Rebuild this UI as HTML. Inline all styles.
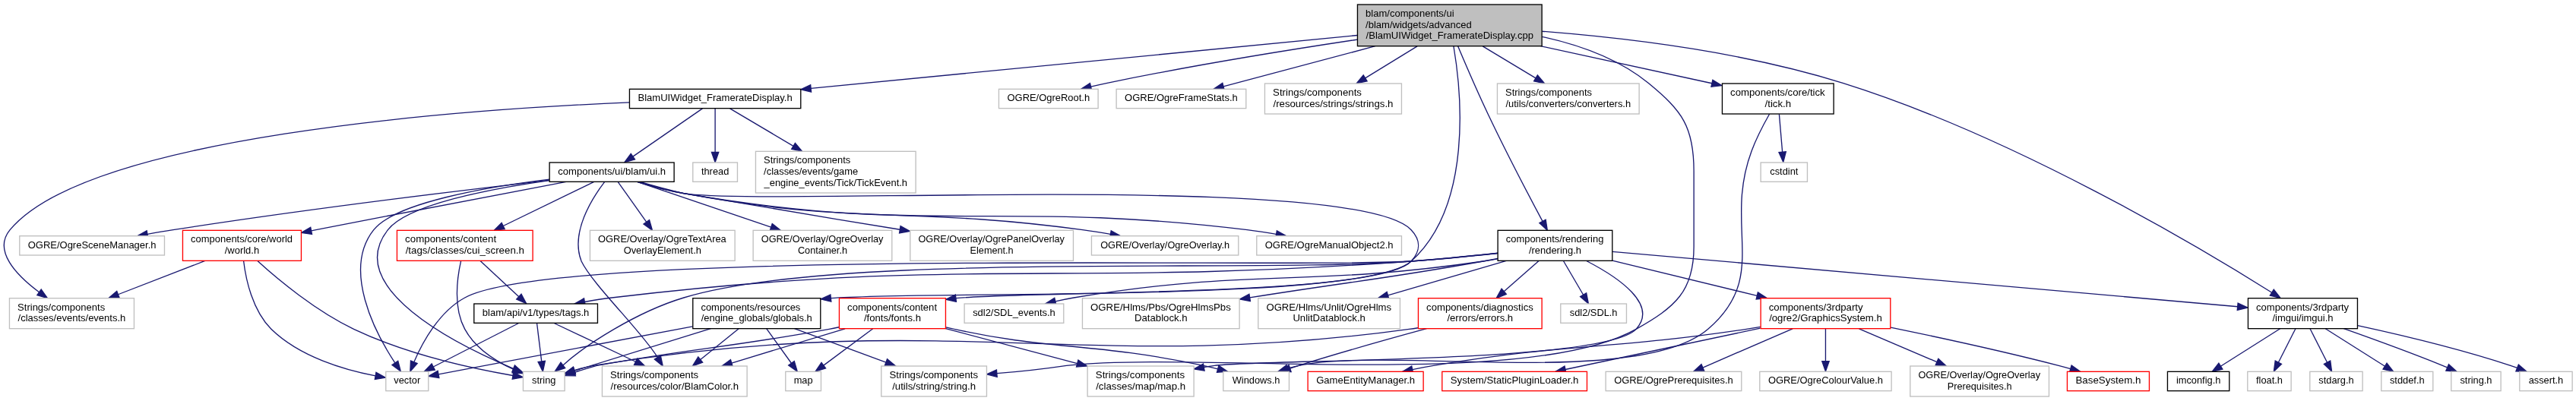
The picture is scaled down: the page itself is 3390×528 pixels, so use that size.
<!DOCTYPE html>
<html lang="en">
<head>
<meta charset="utf-8">
<title>blam/components/ui/blam/widgets/advanced/BlamUIWidget_FramerateDisplay.cpp include dependency graph</title>
<style>
html,body{margin:0;padding:0;background:#ffffff;}
body{width:3390px;height:528px;overflow:hidden;}
svg{display:block;position:absolute;left:0;top:0;will-change:transform;transform:translateZ(0);}
text{font-family:"Liberation Sans",Arial,Helvetica,sans-serif;font-size:13.333px;fill:#000000;}
.e{fill:none;stroke:#191970;stroke-width:1.333;}
.a{fill:#191970;stroke:#191970;stroke-width:1.333;}
.n{stroke-width:1.333;}
.m{text-anchor:middle;}
</style>
</head>
<body>
<svg width="3390" height="528" viewBox="0 0 3390 528">
<rect x="0" y="0" width="3390" height="528" fill="#ffffff"/>
<g id="edges">
<path class="e" d="M269.83,343.47L155.42,387.75"/>
<polygon class="a" points="157.1,392.1 142.98,392.56 153.73,383.4"/>
<path class="e" d="M338.89,343.57C365.3,367.72 415.24,409.28 465.52,433.33 535.91,466.84 624.59,485.75 675,494.52"/>
<polygon class="a" points="675.77,489.92 688.15,496.73 674.23,499.12"/>
<path class="e" d="M320.61,343.73C323.43,367.68 332.25,408.61 356.88,433.33 394.81,470.39 454.28,487.36 494.13,494.93"/>
<polygon class="a" points="494.94,490.33 507.27,497.23 493.33,499.53"/>
<path class="e" d="M632.04,343.47L682.87,390.67"/>
<polygon class="a" points="686.05,387.25 692.64,399.75 679.69,394.09"/>
<path class="e" d="M606.6,343.68C601.43,366.48 596.3,405.16 611.71,433.33 625.32,458.52 652.71,475.73 675.95,486.49"/>
<polygon class="a" points="677.79,482.2 688.2,491.75 674.11,490.78"/>
<path class="e" d="M1971.08,340.39C1964.56,341.65 1958.07,342.87 1951.79,344 1819.56,367.79 1782.76,369.84 1644.66,391.88"/>
<polygon class="a" points="1645.4,396.49 1631.49,393.99 1643.92,387.27"/>
<path class="e" d="M2025.04,343.47L1979.18,383.76"/>
<polygon class="a" points="1982.26,387.27 1969.16,392.56 1976.1,380.25"/>
<path class="e" d="M1970.63,340.93C1964.27,342.07 1957.93,343.11 1951.79,344 1713.96,378.77 1650.29,352.53 1413.12,392 1405.31,393.31 1397.11,394.97 1388.83,396.84"/>
<polygon class="a" points="1389.9,401.38 1375.85,399.91 1387.75,392.29"/>
<path class="e" d="M2121.95,343.04L2312.27,389.38"/>
<polygon class="a" points="2313.38,384.84 2325.23,392.53 2311.17,393.91"/>
<path class="e" d="M1970.99,333.36C1936.33,337.09 1894.68,341.23 1857.12,344 1390.35,378.45 1269.89,336.76 805.12,392 793.51,393.37 781.23,395.33 769.38,397.48"/>
<polygon class="a" points="770.25,402.07 756.28,399.96 768.51,392.9"/>
<path class="e" d="M2087.73,343.52C2129.13,364.91 2182.79,400.99 2153.12,433.33 2111.31,478.92 1659.69,472.63 1598.45,481.33 1593.88,481.99 1589.2,482.71 1584.28,483.53"/>
<polygon class="a" points="1585.08,488.13 1571.15,485.8 1583.49,478.93"/>
<path class="e" d="M2057.45,343.47L2083.62,388.24"/>
<polygon class="a" points="2087.65,385.88 2090.35,399.75 2079.59,390.59"/>
<path class="e" d="M1970.99,333.28C1936.33,337 1894.68,341.15 1857.12,344 1644.89,360.16 1103.79,330.72 899.79,392 837.49,410.71 769.6,454.76 740.83,480.9"/>
<polygon class="a" points="743.67,484.6 730.25,489 738,477.19"/>
<path class="e" d="M1982.31,343.36L1826.47,388.79"/>
<polygon class="a" points="1827.77,393.27 1813.67,392.52 1825.16,384.31"/>
<path class="e" d="M2122.03,331.32L2944.68,403.78"/>
<polygon class="a" points="2945.09,399.13 2957.96,404.95 2944.27,408.43"/>
<path class="e" d="M1971,333.48C1936.35,337.24 1894.69,341.36 1857.12,344 1718.99,353.71 733.35,325.67 611.72,392 577.94,410.32 555.96,450.63 544.81,476.75"/>
<polygon class="a" points="549.14,478.5 539.83,489.12 540.48,475.01"/>
<path class="e" d="M1008.82,432.8L1041.45,478.25"/>
<polygon class="a" points="1045.24,475.53 1049.23,489.08 1037.66,480.97"/>
<path class="e" d="M935.37,432.69L756.06,488.19"/>
<polygon class="a" points="757.44,492.65 743.32,492.13 754.68,483.73"/>
<path class="e" d="M1045.49,432.69L1165.97,477.09"/>
<polygon class="a" points="1167.58,472.72 1178.48,481.71 1164.36,481.47"/>
<path class="e" d="M972.18,432.8L921.74,473.52"/>
<polygon class="a" points="924.67,477.15 911.36,481.89 918.81,469.89"/>
<path class="e" d="M911.41,429.89L576.98,492.9"/>
<polygon class="a" points="577.85,497.49 563.88,495.37 576.12,488.32"/>
<path class="e" d="M745.07,239.39C668.57,253.93 532.31,279.92 415.79,302.67 413.83,303.05 411.85,303.44 409.62,303.88"/>
<polygon class="a" points="410.52,308.45 396.53,306.44 408.72,299.3"/>
<path class="e" d="M781.8,239.33L662.19,297.49"/>
<polygon class="a" points="664.23,301.69 650.2,303.32 660.15,293.29"/>
<path class="e" d="M842.2,239.47C859.57,244.57 880.63,250.39 899.79,254.67 913.77,257.79 1069.8,283.51 1184.32,302.26"/>
<polygon class="a" points="1185.08,297.66 1197.48,304.43 1183.57,306.87"/>
<path class="e" d="M838.57,239.33L1014.73,299.04"/>
<polygon class="a" points="1016.23,294.62 1027.36,303.32 1013.23,303.46"/>
<path class="e" d="M839.83,239.43C857.57,244.85 879.64,250.95 899.79,254.67 1130.33,297.29 1192.77,271.32 1424.78,302.67 1436.26,304.25 1448.81,306.23 1461.43,308.37"/>
<polygon class="a" points="1462.23,303.77 1474.57,310.64 1460.64,312.96"/>
<path class="e" d="M838.44,239.36C856.4,244.99 879.07,251.27 899.79,254.67 1004.89,271.88 1783.72,225.49 1857.12,302.67 1869.79,315.97 1869.59,330.51 1857.12,344 1813.88,390.84 1368.03,382.63 1257.91,392.6"/>
<polygon class="a" points="1258.46,397.23 1244.67,394.16 1257.36,387.96"/>
<path class="e" d="M722.83,237.57C645,248.51 536.39,269.35 510.45,302.67 450.46,378.8 600.86,453.72 675.69,485.29"/>
<polygon class="a" points="677.47,480.97 688.02,490.37 673.91,489.6"/>
<path class="e" d="M722.72,237.32C610.52,250.32 403.56,275.39 227.79,302.67 216.95,304.35 205.51,306.27 193.95,308.29"/>
<polygon class="a" points="194.77,312.89 180.83,310.63 193.14,303.7"/>
<path class="e" d="M795.53,239.65C779.44,260.71 750.16,306.39 765.12,344 779.79,374.48 844.65,436.69 865.32,470.54"/>
<polygon class="a" points="869.3,468.11 872.27,481.92 861.34,472.97"/>
<path class="e" d="M838.91,239.37C856.79,244.93 879.25,251.15 899.79,254.67 1225.23,310.4 1313.36,262.85 1641.46,302.67 1653.49,304.17 1666.57,306.16 1679.56,308.37"/>
<polygon class="a" points="1680.36,303.77 1692.69,310.67 1678.75,312.96"/>
<path class="e" d="M723.05,236.15C640.07,246.28 520.12,266.79 491.79,302.67 450.39,354.79 493.29,437.57 519.84,477.86"/>
<polygon class="a" points="523.71,475.26 527.27,488.93 515.96,480.46"/>
<path class="e" d="M813.29,239.52L850.77,292.35"/>
<polygon class="a" points="854.57,289.65 858.48,303.23 846.96,295.05"/>
<path class="e" d="M1918.6,60.68C1928.56,84.32 1943.95,120.09 1958.45,150.67 1982.11,200.49 2011.8,257.23 2030.01,291.41"/>
<polygon class="a" points="2034.13,289.21 2036.29,303.17 2025.89,293.61"/>
<path class="e" d="M1809.84,60.72L1610.01,113.89"/>
<polygon class="a" points="1611.2,118.4 1597.12,117.32 1608.81,109.38"/>
<path class="e" d="M1912.93,60.75C1923.13,121.03 1938.43,270.41 1857.12,344 1796.45,398.91 1223.63,382.44 1093.35,392.55"/>
<polygon class="a" points="1093.81,397.2 1080.08,393.88 1092.88,387.91"/>
<path class="e" d="M1786.31,52.07C1695.32,65.77 1567.97,86.33 1457.12,109.33 1450.27,110.76 1443.11,112.37 1435.55,114.15"/>
<polygon class="a" points="1436.66,118.69 1422.6,117.31 1434.45,109.62"/>
<path class="e" d="M1786.33,46.48L1067.11,116.42"/>
<polygon class="a" points="1067.56,121.06 1053.84,117.71 1066.66,111.77"/>
<path class="e" d="M2029.29,48.32C2077.01,58.72 2129.68,77.05 2169.12,109.33 2214.04,146.09 2229.12,167.29 2229.12,225.33 2229.12,225.33 2229.12,225.33 2229.12,324.67 2229.12,383.6 2204.47,404.41 2153.12,433.33 2010.83,513.48 1581.96,462.08 1403.5,481.33 1379.71,484.86 1355.22,488.12 1311.82,491.7"/>
<polygon class="a" points="1312.21,496.35 1298.53,492.8 1311.44,487.05"/>
<path class="e" d="M1865.08,60.85L1796.63,102.81"/>
<polygon class="a" points="1799.07,106.78 1785.27,109.77 1794.2,98.83"/>
<path class="e" d="M2027.55,60.72L2252.9,109.76"/>
<polygon class="a" points="2253.9,105.2 2265.93,112.6 2251.91,114.32"/>
<path class="e" d="M2029.37,41.24C2135.77,49.56 2293.48,68.17 2425.12,109.33 2650.32,179.75 2894.88,325.64 2989.77,385.21"/>
<polygon class="a" points="2992.26,381.27 3001.04,392.33 2987.28,389.16"/>
<path class="e" d="M1951.24,60.85L2021.01,102.89"/>
<polygon class="a" points="2023.41,98.89 2032.43,109.77 2018.6,106.89"/>
<path class="e" d="M2402.45,432.8L2402.45,475.75"/>
<polygon class="a" points="2407.12,475.75 2402.45,489.08 2397.79,475.75"/>
<path class="e" d="M2316.64,432.17L2059.96,486.52"/>
<polygon class="a" points="2060.93,491.08 2046.92,489.28 2059,481.95"/>
<path class="e" d="M2316.84,430.39C2310.63,431.44 2304.45,432.43 2298.45,433.33 2116.17,460.87 2068.32,451.13 1886.45,481.33 1877.52,482.81 1868.12,484.6 1858.69,486.53"/>
<polygon class="a" points="1859.65,491.09 1845.64,489.27 1857.73,481.96"/>
<path class="e" d="M2359.05,432.8L2240.86,484.02"/>
<polygon class="a" points="2242.72,488.3 2228.63,489.32 2239.01,479.74"/>
<path class="e" d="M2488.11,431.09C2549.83,443.83 2634.95,462.24 2709.12,481.33 2714.2,482.64 2719.47,484.07 2724.8,485.57"/>
<polygon class="a" points="2726.1,481.09 2737.61,489.27 2723.51,490.05"/>
<path class="e" d="M2446.43,432.8L2548.97,476.65"/>
<polygon class="a" points="2550.8,472.36 2561.23,481.89 2547.13,480.94"/>
<path class="e" d="M706.56,425.69L712.74,475.93"/>
<polygon class="a" points="717.38,475.36 714.37,489.16 708.11,476.5"/>
<path class="e" d="M729.15,425.51L836.51,476.26"/>
<polygon class="a" points="838.51,472.04 848.56,481.96 834.52,480.48"/>
<path class="e" d="M682.64,425.51L570.24,483.03"/>
<polygon class="a" points="572.37,487.19 558.37,489.11 568.12,478.88"/>
<path class="e" d="M1244.72,430.85C1248.91,431.73 1253.07,432.56 1256.06,433.33 1376.55,460.73 1440.24,450.89 1583.79,481.33 1589.8,482.61 1596.05,484.11 1602.67,485.81"/>
<polygon class="a" points="1603.88,481.3 1615.55,489.27 1601.46,490.32"/>
<path class="e" d="M1148.73,432.8L1083.82,481.12"/>
<polygon class="a" points="1086.6,484.86 1073.12,489.08 1081.03,477.38"/>
<path class="e" d="M1244.53,432.59L1417.71,478.54"/>
<polygon class="a" points="1418.91,474.03 1430.6,481.96 1416.52,483.05"/>
<path class="e" d="M1104.16,430.76C1099.99,431.65 1095.84,432.52 1091.26,433.33 952.36,458.65 920.15,457.25 785.32,481.33 774.14,484.51 762.17,488.33 755.93,490.39"/>
<polygon class="a" points="757.41,494.81 743.29,494.61 754.45,485.96"/>
<path class="e" d="M1112.08,432.8L962.82,478.03"/>
<polygon class="a" points="964.17,482.49 950.06,481.89 961.47,473.56"/>
<path class="e" d="M924.44,142.85L832.9,206.13"/>
<polygon class="a" points="835.55,209.96 821.93,213.71 830.25,202.29"/>
<path class="e" d="M941.12,142.85L941.12,200.37"/>
<polygon class="a" points="945.79,200.37 941.12,213.71 936.45,200.37"/>
<path class="e" d="M828.16,134.85C604,144.48 115.69,179.41 13.12,302.67 -9.71,330.09 21.81,362.57 51.56,384.82"/>
<polygon class="a" points="54.27,381.02 62.42,392.56 48.85,388.62"/>
<path class="e" d="M960.57,142.85L1044.06,192.32"/>
<polygon class="a" points="1046.44,188.31 1055.53,199.12 1041.68,196.34"/>
<path class="e" d="M2328.53,150.23C2321.05,163.43 2311.47,181.67 2305.12,198.67 2267.55,299.24 2329.21,363.35 2247.79,433.33 2156.65,511.67 1826.64,456.2 1709.12,481.33 1704.45,482.33 1699.64,483.6 1694.48,485.14"/>
<polygon class="a" points="1695.92,489.58 1681.8,489.27 1693.04,480.71"/>
<path class="e" d="M2341.4,150.36L2345.64,200.19"/>
<polygon class="a" points="2350.29,199.8 2346.77,213.48 2340.99,200.59"/>
<path class="e" d="M3040,432.8L3062.54,477.19"/>
<polygon class="a" points="3066.7,475.08 3068.57,489.08 3058.38,479.3"/>
<path class="e" d="M3060.25,432.8L3138.54,482.2"/>
<polygon class="a" points="3141.03,478.26 3149.81,489.32 3136.05,486.15"/>
<path class="e" d="M3020.91,432.8L2998.37,477.19"/>
<polygon class="a" points="3002.53,479.3 2992.33,489.08 2994.21,475.08"/>
<path class="e" d="M3084.33,432.71C3121.2,445.75 3171.07,463.88 3214.45,481.33 3216.35,482.09 3218.27,482.88 3220.71,483.91"/>
<polygon class="a" points="3222.55,479.62 3232.97,489.15 3218.88,488.2"/>
<path class="e" d="M3000.65,432.8L2922.37,482.2"/>
<polygon class="a" points="2924.86,486.15 2911.09,489.32 2919.88,478.26"/>
<path class="e" d="M3102.65,428.65C3158.25,440.69 3236.69,459.31 3303.79,481.33 3306.63,482.27 3309.55,483.29 3312.63,484.44"/>
<polygon class="a" points="3314.34,480.1 3325.04,489.32 3310.92,488.78"/>
<path class="e" d="M1865.96,431.72C1862.08,432.32 1858.23,432.87 1854.45,433.33 1423.63,492.92 1248.93,405.65 781.07,481.33 772.59,482.87 763.51,485.25 755.82,487.58"/>
<polygon class="a" points="757.25,492.02 743.13,491.69 754.38,483.14"/>
<path class="e" d="M1877.51,432.69C1829.8,445.65 1765.4,463.69 1709.12,481.33 1705.44,482.49 1701.64,483.72 1697.63,485.04"/>
<polygon class="a" points="1699.13,489.46 1685,489.31 1696.14,480.62"/>
</g>
<g id="nodes">
<rect class="n" x="1786.45" y="6" width="242.67" height="54.67" fill="#bfbfbf" stroke="#000000"/>
<text x="1797.12" y="22" style="font-size:13.03px">blam/components/ui</text>
<text x="1797.12" y="36.67" style="font-size:13.03px">/blam/widgets/advanced</text>
<text x="1907.79" y="51.33" class="m" style="font-size:13.03px">/BlamUIWidget_FramerateDisplay.cpp</text>
<rect class="n" x="828.45" y="117.33" width="225.33" height="25.33" fill="#ffffff" stroke="#000000"/>
<text x="941.12" y="133.33" class="m" style="font-size:13.04px">BlamUIWidget_FramerateDisplay.h</text>
<rect class="n" x="1314.45" y="117.33" width="130.67" height="25.33" fill="#ffffff" stroke="#bfbfbf"/>
<text x="1379.79" y="133.33" class="m" style="font-size:12.95px">OGRE/OgreRoot.h</text>
<rect class="n" x="1469.12" y="117.33" width="170.67" height="25.33" fill="#ffffff" stroke="#bfbfbf"/>
<text x="1554.45" y="133.33" class="m" style="font-size:12.99px">OGRE/OgreFrameStats.h</text>
<rect class="n" x="1664.45" y="110" width="180" height="40" fill="#ffffff" stroke="#bfbfbf"/>
<text x="1675.12" y="126" style="font-size:13.22px">Strings/components</text>
<text x="1754.45" y="140.67" class="m" style="font-size:13.22px">/resources/strings/strings.h</text>
<rect class="n" x="1970.45" y="110" width="186.67" height="40" fill="#ffffff" stroke="#bfbfbf"/>
<text x="1981.12" y="126" style="font-size:12.88px">Strings/components</text>
<text x="2063.79" y="140.67" class="m" style="font-size:12.88px">/utils/converters/converters.h</text>
<rect class="n" x="2266.45" y="110" width="146.67" height="40" fill="#ffffff" stroke="#000000"/>
<text x="2277.12" y="126" style="font-size:13.19px">components/core/tick</text>
<text x="2339.79" y="140.67" class="m" style="font-size:13.19px">/tick.h</text>
<rect class="n" x="723.12" y="214" width="164" height="25.33" fill="#ffffff" stroke="#000000"/>
<text x="805.12" y="230" class="m" style="font-size:13.1px">components/ui/blam/ui.h</text>
<rect class="n" x="911.79" y="214" width="58.67" height="25.33" fill="#ffffff" stroke="#bfbfbf"/>
<text x="941.12" y="230" class="m" style="font-size:12.83px">thread</text>
<rect class="n" x="994.45" y="199.33" width="210.67" height="54.67" fill="#ffffff" stroke="#bfbfbf"/>
<text x="1005.12" y="215.33" style="font-size:12.92px">Strings/components</text>
<text x="1005.12" y="230" style="font-size:12.92px">/classes/events/game</text>
<text x="1099.79" y="244.67" class="m" style="font-size:12.92px">_engine_events/Tick/TickEvent.h</text>
<rect class="n" x="2317.12" y="214" width="61.33" height="25.33" fill="#ffffff" stroke="#bfbfbf"/>
<text x="2347.79" y="230" class="m" style="font-size:12.83px">cstdint</text>
<rect class="n" x="25.79" y="310.67" width="190.67" height="25.33" fill="#ffffff" stroke="#bfbfbf"/>
<text x="121.12" y="326.67" class="m" style="font-size:12.97px">OGRE/OgreSceneManager.h</text>
<rect class="n" x="240.45" y="303.33" width="156" height="40" fill="#ffffff" stroke="#ff0000"/>
<text x="251.12" y="319.33" style="font-size:12.96px">components/core/world</text>
<text x="318.45" y="334" class="m" style="font-size:12.96px">/world.h</text>
<rect class="n" x="522.45" y="303.33" width="178.67" height="40" fill="#ffffff" stroke="#ff0000"/>
<text x="533.12" y="319.33">components/content</text>
<text x="611.79" y="334" class="m">/tags/classes/cui_screen.h</text>
<rect class="n" x="776.45" y="303.33" width="190.67" height="40" fill="#ffffff" stroke="#bfbfbf"/>
<text x="787.12" y="319.33" style="font-size:12.86px">OGRE/Overlay/OgreTextArea</text>
<text x="871.79" y="334" class="m" style="font-size:12.86px">OverlayElement.h</text>
<rect class="n" x="991.12" y="303.33" width="182.67" height="40" fill="#ffffff" stroke="#bfbfbf"/>
<text x="1001.79" y="319.33" style="font-size:12.74px">OGRE/Overlay/OgreOverlay</text>
<text x="1082.45" y="334" class="m" style="font-size:12.74px">Container.h</text>
<rect class="n" x="1197.79" y="303.33" width="214.67" height="40" fill="#ffffff" stroke="#bfbfbf"/>
<text x="1208.45" y="319.33" style="font-size:12.7px">OGRE/Overlay/OgrePanelOverlay</text>
<text x="1305.12" y="334" class="m" style="font-size:12.7px">Element.h</text>
<rect class="n" x="1436.45" y="310.67" width="193.33" height="25.33" fill="#ffffff" stroke="#bfbfbf"/>
<text x="1533.12" y="326.67" class="m" style="font-size:12.71px">OGRE/Overlay/OgreOverlay.h</text>
<rect class="n" x="1653.79" y="310.67" width="190.67" height="25.33" fill="#ffffff" stroke="#bfbfbf"/>
<text x="1749.12" y="326.67" class="m" style="font-size:12.97px">OGRE/OgreManualObject2.h</text>
<rect class="n" x="1971.12" y="303.33" width="150.67" height="40" fill="#ffffff" stroke="#000000"/>
<text x="1981.79" y="319.33" style="font-size:12.93px">components/rendering</text>
<text x="2046.45" y="334" class="m" style="font-size:12.93px">/rendering.h</text>
<rect class="n" x="12.45" y="392.67" width="164" height="40" fill="#ffffff" stroke="#bfbfbf"/>
<text x="23.12" y="408.67" style="font-size:13.03px">Strings/components</text>
<text x="94.45" y="423.33" class="m" style="font-size:13.03px">/classes/events/events.h</text>
<rect class="n" x="623.79" y="400" width="162.67" height="25.33" fill="#ffffff" stroke="#000000"/>
<text x="705.12" y="416" class="m" style="font-size:13.04px">blam/api/v1/types/tags.h</text>
<rect class="n" x="911.79" y="392.67" width="168" height="40" fill="#ffffff" stroke="#000000"/>
<text x="922.45" y="408.67" style="font-size:12.94px">components/resources</text>
<text x="995.79" y="423.33" class="m" style="font-size:12.94px">/engine_globals/globals.h</text>
<rect class="n" x="1104.45" y="392.67" width="140" height="40" fill="#ffffff" stroke="#ff0000"/>
<text x="1115.12" y="408.67" style="font-size:13.1px">components/content</text>
<text x="1174.45" y="423.33" class="m" style="font-size:13.1px">/fonts/fonts.h</text>
<rect class="n" x="1269.12" y="400" width="130.67" height="25.33" fill="#ffffff" stroke="#bfbfbf"/>
<text x="1334.45" y="416" class="m" style="font-size:12.95px">sdl2/SDL_events.h</text>
<rect class="n" x="1424.45" y="392.67" width="206.67" height="40" fill="#ffffff" stroke="#bfbfbf"/>
<text x="1435.12" y="408.67" style="font-size:13.19px">OGRE/Hlms/Pbs/OgreHlmsPbs</text>
<text x="1527.79" y="423.33" class="m" style="font-size:13.19px">Datablock.h</text>
<rect class="n" x="1655.79" y="392.67" width="186.67" height="40" fill="#ffffff" stroke="#bfbfbf"/>
<text x="1666.45" y="408.67" style="font-size:13.11px">OGRE/Hlms/Unlit/OgreHlms</text>
<text x="1749.12" y="423.33" class="m" style="font-size:13.11px">UnlitDatablock.h</text>
<rect class="n" x="1866.45" y="392.67" width="162.67" height="40" fill="#ffffff" stroke="#ff0000"/>
<text x="1877.12" y="408.67" style="font-size:13.11px">components/diagnostics</text>
<text x="1947.79" y="423.33" class="m" style="font-size:13.11px">/errors/errors.h</text>
<rect class="n" x="2053.79" y="400" width="86.67" height="25.33" fill="#ffffff" stroke="#bfbfbf"/>
<text x="2097.12" y="416" class="m" style="font-size:12.83px">sdl2/SDL.h</text>
<rect class="n" x="2317.12" y="392.67" width="170.67" height="40" fill="#ffffff" stroke="#ff0000"/>
<text x="2327.79" y="408.67" style="font-size:13.18px">components/3rdparty</text>
<text x="2402.45" y="423.33" class="m" style="font-size:13.18px">/ogre2/GraphicsSystem.h</text>
<rect class="n" x="2958.45" y="392.67" width="144" height="40" fill="#ffffff" stroke="#000000"/>
<text x="2969.12" y="408.67" style="font-size:12.99px">components/3rdparty</text>
<text x="3030.45" y="423.33" class="m" style="font-size:12.99px">/imgui/imgui.h</text>
<rect class="n" x="507.79" y="489.33" width="56" height="25.33" fill="#ffffff" stroke="#bfbfbf"/>
<text x="535.79" y="505.33" class="m" style="font-size:12.83px">vector</text>
<rect class="n" x="688.45" y="489.33" width="54.67" height="25.33" fill="#ffffff" stroke="#bfbfbf"/>
<text x="715.79" y="505.33" class="m" style="font-size:12.83px">string</text>
<rect class="n" x="792.45" y="482" width="190.67" height="40" fill="#ffffff" stroke="#bfbfbf"/>
<text x="803.12" y="498" style="font-size:13.14px">Strings/components</text>
<text x="887.79" y="512.67" class="m" style="font-size:13.14px">/resources/color/BlamColor.h</text>
<rect class="n" x="1033.79" y="489.33" width="46.67" height="25.33" fill="#ffffff" stroke="#bfbfbf"/>
<text x="1057.12" y="505.33" class="m" style="font-size:12.83px">map</text>
<rect class="n" x="1159.79" y="482" width="138.67" height="40" fill="#ffffff" stroke="#bfbfbf"/>
<text x="1170.45" y="498" style="font-size:13.2px">Strings/components</text>
<text x="1229.12" y="512.67" class="m" style="font-size:13.2px">/utils/string/string.h</text>
<rect class="n" x="1431.12" y="482" width="140" height="40" fill="#ffffff" stroke="#bfbfbf"/>
<text x="1441.79" y="498" style="font-size:13.27px">Strings/components</text>
<text x="1501.12" y="512.67" class="m" style="font-size:13.27px">/classes/map/map.h</text>
<rect class="n" x="1609.79" y="489.33" width="86.67" height="25.33" fill="#ffffff" stroke="#bfbfbf"/>
<text x="1653.12" y="505.33" class="m" style="font-size:12.83px">Windows.h</text>
<rect class="n" x="1721.12" y="489.33" width="152" height="25.33" fill="#ffffff" stroke="#ff0000"/>
<text x="1797.12" y="505.33" class="m" style="font-size:13.07px">GameEntityManager.h</text>
<rect class="n" x="1897.79" y="489.33" width="190.67" height="25.33" fill="#ffffff" stroke="#ff0000"/>
<text x="1993.12" y="505.33" class="m" style="font-size:13.19px">System/StaticPluginLoader.h</text>
<rect class="n" x="2113.12" y="489.33" width="178.67" height="25.33" fill="#ffffff" stroke="#bfbfbf"/>
<text x="2202.45" y="505.33" class="m" style="font-size:12.93px">OGRE/OgrePrerequisites.h</text>
<rect class="n" x="2315.79" y="489.33" width="173.33" height="25.33" fill="#ffffff" stroke="#bfbfbf"/>
<text x="2402.45" y="505.33" class="m" style="font-size:12.92px">OGRE/OgreColourValue.h</text>
<rect class="n" x="2513.79" y="482" width="182.67" height="40" fill="#ffffff" stroke="#bfbfbf"/>
<text x="2524.45" y="498" style="font-size:12.74px">OGRE/Overlay/OgreOverlay</text>
<text x="2605.12" y="512.67" class="m" style="font-size:12.74px">Prerequisites.h</text>
<rect class="n" x="2720.45" y="489.33" width="108" height="25.33" fill="#ffffff" stroke="#ff0000"/>
<text x="2774.45" y="505.33" class="m">BaseSystem.h</text>
<rect class="n" x="2852.45" y="489.33" width="81.33" height="25.33" fill="#ffffff" stroke="#000000"/>
<text x="2893.12" y="505.33" class="m" style="font-size:12.83px">imconfig.h</text>
<rect class="n" x="2957.79" y="489.33" width="57.33" height="25.33" fill="#ffffff" stroke="#bfbfbf"/>
<text x="2986.45" y="505.33" class="m" style="font-size:12.83px">float.h</text>
<rect class="n" x="3039.79" y="489.33" width="69.33" height="25.33" fill="#ffffff" stroke="#bfbfbf"/>
<text x="3074.45" y="505.33" class="m" style="font-size:12.83px">stdarg.h</text>
<rect class="n" x="3133.79" y="489.33" width="68" height="25.33" fill="#ffffff" stroke="#bfbfbf"/>
<text x="3167.79" y="505.33" class="m" style="font-size:12.83px">stddef.h</text>
<rect class="n" x="3225.79" y="489.33" width="65.33" height="25.33" fill="#ffffff" stroke="#bfbfbf"/>
<text x="3258.45" y="505.33" class="m" style="font-size:12.83px">string.h</text>
<rect class="n" x="3315.79" y="489.33" width="69.33" height="25.33" fill="#ffffff" stroke="#bfbfbf"/>
<text x="3350.45" y="505.33" class="m" style="font-size:12.83px">assert.h</text>
</g>
</svg>
</body>
</html>
